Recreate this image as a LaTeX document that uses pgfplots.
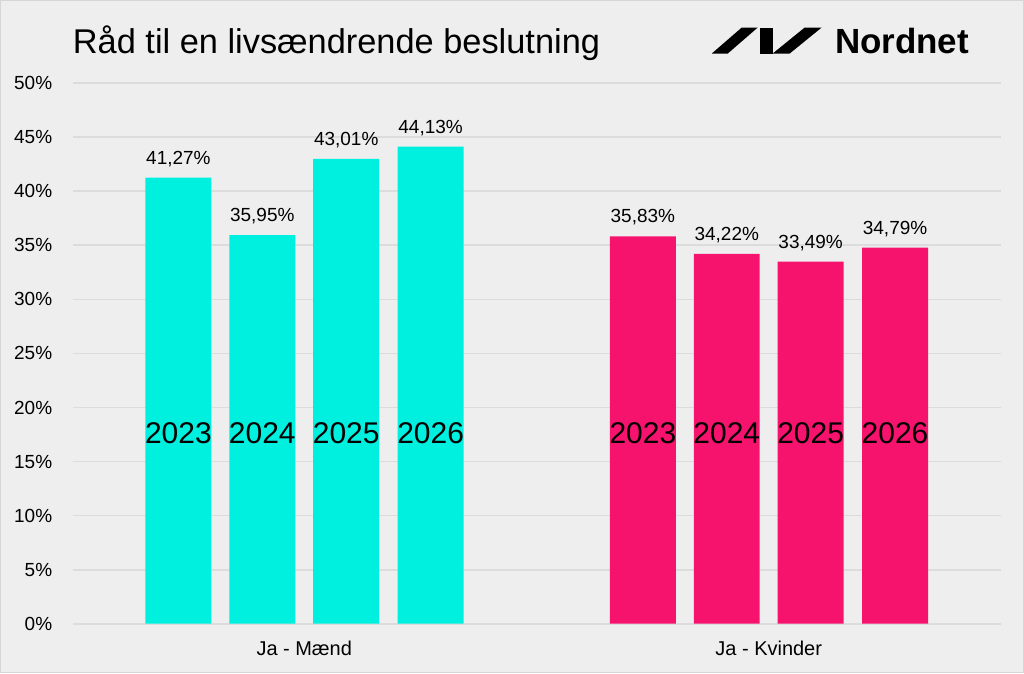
\documentclass[border=0pt]{standalone}
\usepackage{pgfplots}
\pgfplotsset{compat=1.18}
\usepackage{fontspec}
\setmainfont{Liberation Sans}
\definecolor{bg}{HTML}{EEEEEE}
\definecolor{edge}{HTML}{D6D6D6}
\definecolor{gridc}{HTML}{DCDCDC}
\definecolor{cyanbar}{HTML}{00F0E0}
\definecolor{pinkbar}{HTML}{F5136E}
\pgfplotstableread{
x y
178 41.27
262 35.95
346 43.01
430.5 44.13
}\maend
\pgfplotstableread{
x y
643 35.83
727 34.22
811 33.49
895.5 34.79
}\kvinder
\begin{document}
\begin{tikzpicture}[x=0.5pt,y=0.5pt]
\fill[bg, draw=edge, line width=0.6pt] (0,0) rectangle (1024,673);
\begin{axis}[
  at={(72,45.5)}, anchor=south west,
  scale only axis, width=465pt, height=270.5pt,
  xmin=72, xmax=1002, ymin=0, ymax=50,
  axis line style={draw=none},
  ymajorgrids, grid style={gridc, line width=0.9pt},
  ytick={0,5,...,50},
  yticklabel={\pgfmathprintnumber{\tick}\%},
  xtick={304,769},
  xticklabels={Ja - Mænd, Ja - Kvinder},
  major tick length=0pt,
  xtick pos=bottom, ytick pos=left,
  /pgf/number format/assume math mode=true,
  tick label style={inner sep=0pt, font=\fontsize{9.5}{11}\selectfont},
  xticklabel style={yshift=-8.5pt, font=\fontsize{10}{12}\selectfont},
  yticklabel style={xshift=-10pt},
  clip=false,
  point meta=y,
  nodes near coords={\pgfmathprintnumber[fixed,fixed zerofill,precision=2,use comma,assume math mode=true]{\pgfplotspointmeta}\%},
  nodes near coords style={font=\fontsize{9.5}{11}\selectfont, yshift=2pt},
]
\addplot[ybar, bar shift=0pt, bar width=33pt, fill=cyanbar, draw=none] table {\maend};
\addplot[ybar, bar shift=0pt, bar width=33pt, fill=pinkbar, draw=none] table {\kvinder};
\begin{scope}[every node/.style={font=\fontsize{15}{17}\selectfont, inner sep=0pt}]
\node at (axis cs:178,17.62) {2023};
\node at (axis cs:262,17.62) {2024};
\node at (axis cs:346,17.62) {2025};
\node at (axis cs:430.5,17.62) {2026};
\node at (axis cs:643,17.62) {2023};
\node at (axis cs:727,17.62) {2024};
\node at (axis cs:811,17.62) {2025};
\node at (axis cs:895.5,17.62) {2026};
\end{scope}
\end{axis}
\node[anchor=base west, inner sep=0pt, font=\fontsize{17.2}{20}\selectfont] at (72,620) {Råd til en livsændrende beslutning};
\fill[black] (712,620) -- (728,620) -- (758,646) -- (742,646) -- cycle;
\fill[black] (760,620) rectangle (773,646);
\fill[black] (773,620) -- (790,620) -- (822,646) -- (805,646) -- cycle;
\node[anchor=base west, inner sep=0pt, font=\fontsize{17.5}{20}\selectfont\bfseries] at (835,620) {Nordnet};
\end{tikzpicture}
\end{document}
